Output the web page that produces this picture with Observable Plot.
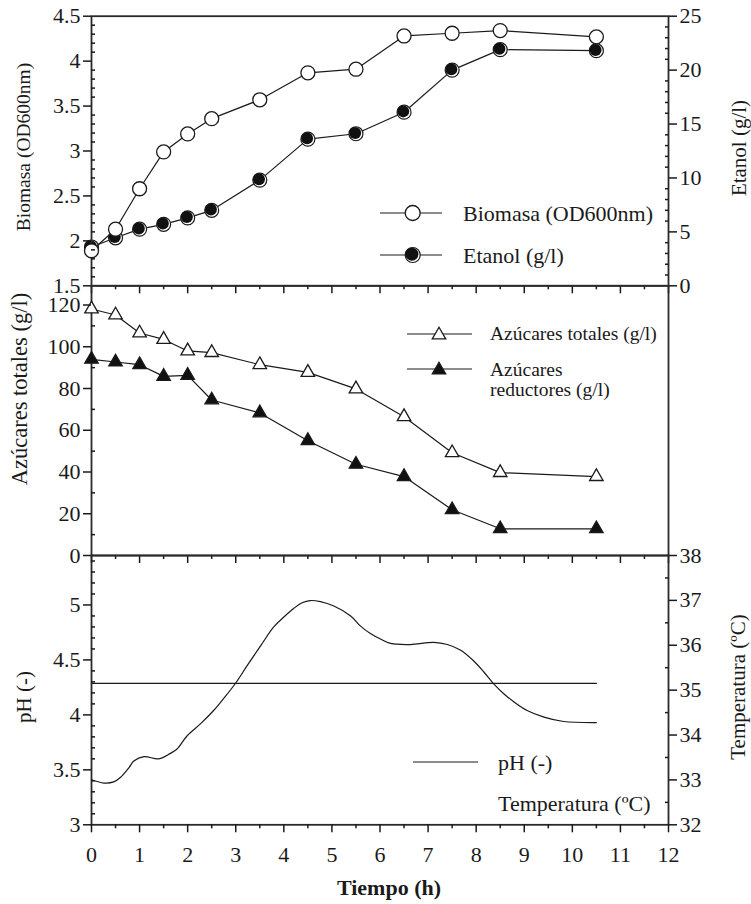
<!DOCTYPE html>
<html><head><meta charset="utf-8">
<script src="https://cdn.jsdelivr.net/npm/d3@7"></script>
<script src="https://cdn.jsdelivr.net/npm/@observablehq/plot@0.6"></script>
<style>
html,body{margin:0;padding:0;background:#fff;overflow:hidden}
#chart{position:relative;width:751px;height:904px}
#chart svg{position:absolute;left:0;top:0}
</style></head><body><div id="chart"></div>
<script>
// ---------- data ----------
const tiempo = [0, 0.5, 1, 1.5, 2, 2.5, 3.5, 4.5, 5.5, 6.5, 7.5, 8.5, 10.5];
const biomasa = [1.89, 2.13, 2.58, 2.99, 3.19, 3.36, 3.57, 3.87, 3.91, 4.28, 4.31, 4.34, 4.27];
const etanol = [3.6, 4.45, 5.25, 5.7, 6.3, 7.0, 9.8, 13.6, 14.1, 16.1, 20.0, 21.9, 21.8];
const azucaresTotales = [118.1, 115.2, 106.6, 103.5, 98.0, 97.2, 91.4, 87.7, 79.8, 66.5, 49.2, 39.7, 37.8];
const azucaresReductores = [94.0, 92.7, 91.4, 85.8, 86.3, 74.5, 68.3, 55.0, 43.7, 37.8, 21.9, 12.8, 12.8];
const phTiempo = [0, 0.26, 0.46, 0.6, 0.78, 0.88, 1.09, 1.4, 1.64, 1.78, 1.99, 2.27, 2.54, 2.75, 3.0, 3.24, 3.52, 3.79, 4.0, 4.21, 4.38, 4.55, 4.76, 5.04, 5.39, 5.59, 5.8, 6.01, 6.22, 6.63, 7.12, 7.4, 7.67, 7.95, 8.16, 8.37, 8.58, 8.78, 9.06, 9.41, 9.82, 10.5];
const ph = [3.41, 3.38, 3.39, 3.43, 3.52, 3.58, 3.62, 3.60, 3.65, 3.69, 3.81, 3.92, 4.04, 4.15, 4.29, 4.45, 4.63, 4.80, 4.89, 4.97, 5.02, 5.04, 5.03, 4.99, 4.90, 4.81, 4.74, 4.69, 4.65, 4.64, 4.66, 4.64, 4.59, 4.49, 4.39, 4.28, 4.19, 4.12, 4.04, 3.98, 3.94, 3.93];
const tempTiempo = [0, 10.5];
const temperatura = [35.15, 35.15];

// tick labels
const xTicks = [0, 1, 2, 3, 4, 5, 6, 7, 8, 9, 10, 11, 12];
const biomasaTicks = [1.5, 2, 2.5, 3, 3.5, 4, 4.5];
const etanolTicks = [0, 5, 10, 15, 20, 25];
const azucaresTicks = [0, 20, 40, 60, 80, 100, 120];
const phTicks = [3, 3.5, 4, 4.5, 5];
const tempTicks = [32, 33, 34, 35, 36, 37, 38];

// minor tick positions
const xMinor = d3.range(0.5, 12, 1);
const biomasaMinor = d3.range(16, 45).filter(v => v % 5 !== 0).map(v => v / 10);
const etanolMinor = d3.range(1, 25).filter(v => v % 5 !== 0);
const azucaresMinor = d3.range(10, 130, 20);
const phMinor = d3.range(31, 55).filter(v => v % 5 !== 0).map(v => v / 10);
const tempMinor = d3.range(32.5, 38, 1);

// ---------- layout ----------
const W = 751, H = 904, ML = 91, MR = 83;
const P1 = {top: 15.7, bottom: 285.3};
const P2 = {top: 285.3, bottom: 555};
const P3 = {top: 555, bottom: 824.3};
const INK = "#1a1a1a";
const FONT = "'Liberation Serif', 'Times New Roman', serif";
const fmt = d => `${d}`;
const TICKFONT = 22;

const topTable = tiempo.map((t, i) => ({t, biomasa: biomasa[i], etanol: etanol[i]}));
const azTable = tiempo.map((t, i) => ({t, tot: azucaresTotales[i], red: azucaresReductores[i]}));
const phTable = phTiempo.map((t, i) => ({t, ph: ph[i]}));
const tempTable = tempTiempo.map((t, i) => ({t, temp: temperatura[i]}));

function layer(panel, yDomain, marks, xAxisExplicit) {
  return Plot.plot({
    width: W, height: H,
    marginLeft: ML, marginRight: MR,
    marginTop: panel.top, marginBottom: H - panel.bottom,
    x: xAxisExplicit ? {domain: [0, 12]} : {domain: [0, 12], axis: null},
    y: {domain: yDomain},
    style: {background: "none", overflow: "visible", fontFamily: FONT, color: INK},
    marks
  });
}

const majorY = (ticks, anchor) => Plot.axisY(ticks, {anchor, tickSize: 8, tickPadding: 3, fontSize: TICKFONT, tickFormat: fmt, label: null, strokeWidth: 1.5});
const minorY = (ticks, anchor) => Plot.axisY(ticks, {anchor, tickSize: 4, dx: anchor === "left" ? 4 : -4, tickFormat: () => "", label: null, strokeWidth: 1.5});
const xTickMarks = () => [
  Plot.axisX(xTicks, {anchor: "bottom", tickSize: 8, tickFormat: () => "", label: null, strokeWidth: 1.5}),
  Plot.axisX(xMinor, {anchor: "bottom", tickSize: 4, tickFormat: () => "", label: null, strokeWidth: 1.5})
];
const frame = () => Plot.frame({stroke: "#2a2a2a", strokeWidth: 1.8});

const chart = document.getElementById("chart");

// Etanol (right axis, top panel)
chart.append(layer(P1, [0, 25], [
  Plot.line(topTable, {x: "t", y: "etanol", stroke: INK, strokeWidth: 1.2}),
  Plot.dot(topTable, {x: "t", y: "etanol", r: 7, fill: "white", stroke: INK, strokeWidth: 1.2}),
  Plot.dot(topTable, {x: "t", y: "etanol", r: 6, fill: "#111", dx: -0.8, dy: -0.8}),
  majorY(etanolTicks, "right"),
  minorY(etanolMinor, "right")
], false));

// Biomasa (left axis, top panel)
chart.append(layer(P1, [1.5, 4.5], [
  frame(),
  Plot.line(topTable, {x: "t", y: "biomasa", stroke: INK, strokeWidth: 1.2}),
  Plot.dot(topTable, {x: "t", y: "biomasa", r: 7, fill: "white", stroke: INK, strokeWidth: 1.3}),
  majorY(biomasaTicks, "left"),
  minorY(biomasaMinor, "left"),
  ...xTickMarks()
], true));

// Azúcares (middle panel)
chart.append(layer(P2, [0, 129.2], [
  frame(),
  Plot.line(azTable, {x: "t", y: "tot", stroke: INK, strokeWidth: 1.2}),
  Plot.line(azTable, {x: "t", y: "red", stroke: INK, strokeWidth: 1.2}),
  Plot.dot(azTable, {x: "t", y: "tot", symbol: "triangle", r: 5, fill: "white", stroke: INK, strokeWidth: 1.3}),
  Plot.dot(azTable, {x: "t", y: "red", symbol: "triangle", r: 5, fill: "#111", stroke: INK, strokeWidth: 1.3}),
  majorY(azucaresTicks, "left"),
  minorY(azucaresMinor, "left"),
  ...xTickMarks()
], true));

// Temperatura (right axis, bottom panel)
chart.append(layer(P3, [32, 38], [
  Plot.line(tempTable, {x: "t", y: "temp", stroke: INK, strokeWidth: 1.2}),
  majorY(tempTicks, "right"),
  minorY(tempMinor, "right")
], false));

// pH (left axis, bottom panel) + x axis
chart.append(layer(P3, [3, 5.45], [
  frame(),
  Plot.line(phTable, {x: "t", y: "ph", stroke: INK, strokeWidth: 1.2, curve: "catmull-rom"}),
  majorY(phTicks, "left"),
  minorY(phMinor, "left"),
  Plot.axisX(xTicks, {anchor: "bottom", tickSize: 8, tickPadding: 14, fontSize: TICKFONT, tickFormat: fmt, label: null, strokeWidth: 1.5}),
  Plot.axisX(xMinor, {anchor: "bottom", tickSize: 4, tickFormat: () => "", label: null, strokeWidth: 1.5})
], true));

// ---------- titles and legends ----------
const svg = d3.select(chart).append("svg")
  .attr("width", W).attr("height", H)
  .style("font-family", FONT).style("overflow", "visible");

function vtitle(x, y, text, size) {
  svg.append("text").attr("transform", `translate(${x},${y}) rotate(-90)`)
    .attr("text-anchor", "middle").attr("dy", "0.35em")
    .attr("font-size", size).attr("fill", INK).text(text);
}
vtitle(23, 147, "Biomasa (OD600nm)", 19.5);
vtitle(19, 389, "Azúcares totales (g/l)", 22.5);
vtitle(24, 697, "pH (-)", 21);
vtitle(739, 148, "Etanol (g/l)", 21);
vtitle(738, 687, "Temperatura (ºC)", 21);

svg.append("text").attr("x", 389).attr("y", 895).attr("text-anchor", "middle")
  .attr("font-size", 22).attr("font-weight", "bold").attr("fill", INK).text("Tiempo (h)");

function ltext(x, y, text, size) {
  svg.append("text").attr("x", x).attr("y", y).attr("dy", "0.35em")
    .attr("font-size", size).attr("fill", INK).text(text);
}
function lline(x1, x2, y) {
  svg.append("line").attr("x1", x1).attr("x2", x2).attr("y1", y).attr("y2", y)
    .attr("stroke", INK).attr("stroke-width", 1.2);
}
// top legend
lline(380, 442, 213);
svg.append("circle").attr("cx", 412.7).attr("cy", 213).attr("r", 7.5).attr("fill", "white").attr("stroke", INK).attr("stroke-width", 1.3);
ltext(463, 213, "Biomasa (OD600nm)", 22);
lline(380, 442, 255);
svg.append("circle").attr("cx", 412.7).attr("cy", 255).attr("r", 7.5).attr("fill", "white").attr("stroke", INK).attr("stroke-width", 1.2);
svg.append("circle").attr("cx", 411.9).attr("cy", 254.2).attr("r", 6.5).attr("fill", "#111");
ltext(463, 255, "Etanol (g/l)", 22);
// middle legend
const tri = d3.symbol(d3.symbolTriangle, Math.PI * 25);
lline(407, 472, 334);
svg.append("path").attr("d", tri()).attr("transform", "translate(439,335)").attr("fill", "white").attr("stroke", INK).attr("stroke-width", 1.3);
ltext(490, 333, "Azúcares totales (g/l)", 19.5);
lline(407, 472, 369);
svg.append("path").attr("d", tri()).attr("transform", "translate(439,370)").attr("fill", "#111").attr("stroke", INK).attr("stroke-width", 1.3);
ltext(490, 369, "Azúcares", 19.5);
ltext(490, 389, "reductores (g/l)", 19.5);
// bottom legend
lline(413, 478, 762);
ltext(498, 762, "pH (-)", 22);
ltext(498, 803, "Temperatura (ºC)", 22);
</script>
</body></html>
